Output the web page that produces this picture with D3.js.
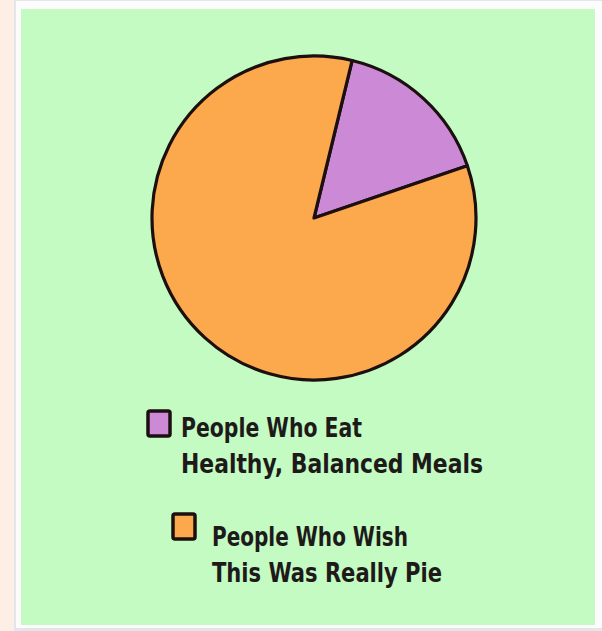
<!DOCTYPE html>
<html><head><meta charset="utf-8">
<script src="https://cdn.jsdelivr.net/npm/d3@7"></script>
<style>html,body{margin:0;padding:0;background:#fdeee6;}svg{display:block;}</style>
</head><body>
<svg id="c" width="602" height="631"></svg>
<script>
const categories = ["People Who Eat Healthy, Balanced Meals", "People Who Wish This Was Really Pie"];
const values = [16, 84];
const colors = ["#cc8ad6", "#fca84c"];
const legendLines = [["People Who Eat", "Healthy, Balanced Meals"], ["People Who Wish", "This Was Really Pie"]];

const svg = d3.select("#c");
// frame
svg.append("rect").attr("x", 14).attr("y", 0).attr("width", 588).attr("height", 631).attr("fill", "#e4e4ea");
svg.append("rect").attr("x", 16).attr("y", 1).attr("width", 586).attr("height", 627).attr("fill", "#fbfcfb");
svg.append("rect").attr("x", 21).attr("y", 9).attr("width", 574).attr("height", 616).attr("fill", "#c3fbc2");

const cx = 314, cy = 218, r = 162;
const start = 13.6 * Math.PI / 180;
const pie = d3.pie().sort(null).startAngle(start).endAngle(start + 2 * Math.PI);
const arc = d3.arc().innerRadius(0).outerRadius(r);
const g = svg.append("g").attr("transform", `translate(${cx},${cy})`);
g.selectAll("path").data(pie(values)).join("path")
  .attr("d", arc)
  .attr("fill", (d, i) => colors[i])
  .attr("stroke", "#1c0f0f").attr("stroke-width", 3.2).attr("stroke-linejoin", "round");

// legend
const leg = [
  {sx: 148, sy: 411, tx: 181, ys: [437, 473], widths: [181, 302]},
  {sx: 173, sy: 514, tx: 212, ys: [546, 582], widths: [196, 230]}
];
leg.forEach((L, i) => {
  svg.append("rect").attr("x", L.sx).attr("y", L.sy).attr("width", 22).attr("height", 25)
    .attr("fill", colors[i]).attr("stroke", "#1c0f0f").attr("stroke-width", 3.5).attr("rx", 2);
  legendLines[i].forEach((t, j) => {
    svg.append("text").attr("x", L.tx).attr("y", L.ys[j]).text(t)
      .attr("font-family", "'Liberation Sans Narrow', 'DejaVu Sans Condensed', sans-serif")
      .attr("font-weight", "bold").attr("font-size", 26).attr("fill", "#1e1a1a")
      .attr("textLength", L.widths[j]).attr("lengthAdjust", "spacingAndGlyphs");
  });
});
</script>
</body></html>
